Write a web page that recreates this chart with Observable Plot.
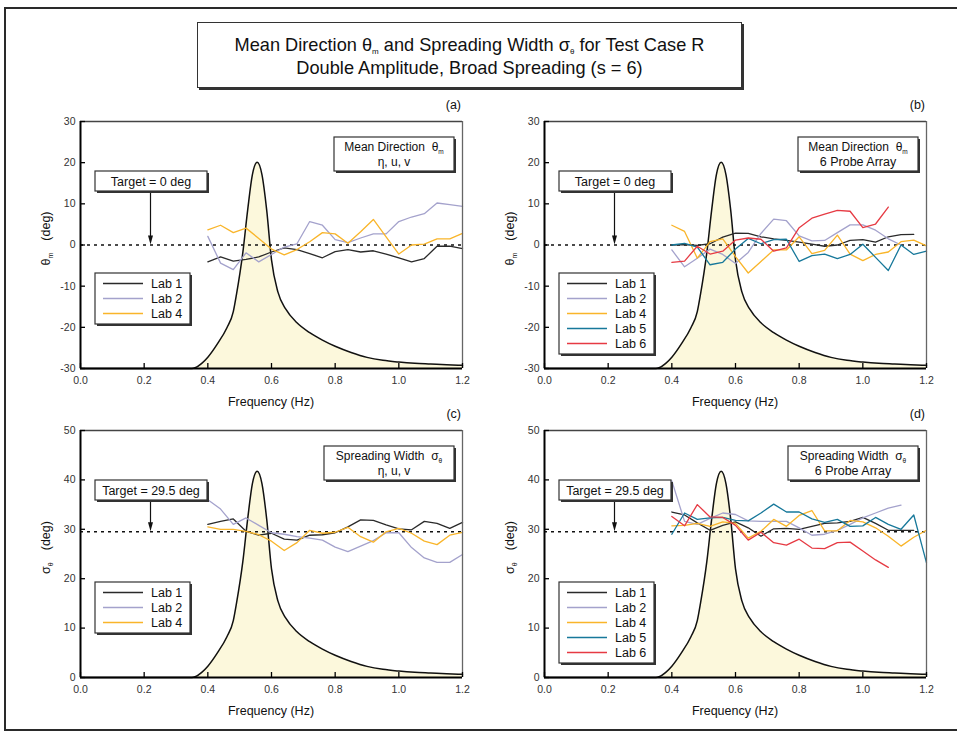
<!DOCTYPE html>
<html><head><meta charset="utf-8">
<script src="https://cdn.jsdelivr.net/npm/d3@7"></script>
<script src="https://cdn.jsdelivr.net/npm/@observablehq/plot@0.6"></script>
<style>
body{margin:0;background:#fff;}
#root{position:relative;width:957px;height:745px;overflow:hidden;font-family:"Liberation Sans",Arial,sans-serif;background:#fff;}
.outer{position:absolute;left:4px;top:7px;width:990px;height:724px;border:2px solid #2a2a2a;box-sizing:border-box;}
.titlebox{position:absolute;left:197px;top:22px;width:545px;height:66px;border:1px solid #333;box-shadow:2px 2px 0 #333;background:#fff;box-sizing:border-box;text-align:center;font-size:18.2px;line-height:23px;padding-top:11px;color:#111;}
.titlebox sub{font-size:8px;vertical-align:-3px;line-height:0;}
.panel{position:absolute;}
.panel svg{overflow:visible;}
</style></head>
<body><div id="root">
<div class="outer"></div>
<div class="titlebox">Mean Direction θ<sub>m</sub> and Spreading Width σ<sub>θ</sub> for Test Case R<br>Double Amplitude, Broad Spreading (s = 6)</div>
</div>
<script>
// ---------- data ----------
const freqs = [0.40,0.44,0.48,0.52,0.56,0.60,0.64,0.68,0.72,0.76,0.80,0.84,0.88,0.92,0.96,1.00,1.04,1.08,1.12,1.16,1.20];

// normalized spectral density curve (fraction of axis height)
const specFreq  = [0.00,0.35,0.36,0.38,0.40,0.43,0.46,0.48,0.49,0.51,0.525,0.54,0.555,0.57,0.585,0.60,0.62,0.645,0.68,0.72,0.76,0.80,0.85,0.90,0.95,1.00,1.05,1.10,1.15,1.20];
const specLevel = [0.000,0.000,0.003,0.020,0.046,0.100,0.165,0.230,0.300,0.470,0.640,0.785,0.835,0.785,0.640,0.440,0.310,0.240,0.185,0.145,0.115,0.090,0.065,0.045,0.033,0.026,0.021,0.018,0.015,0.013];

const xTicks = [0.0,0.2,0.4,0.6,0.8,1.0,1.2];
const thetaTicks = [-30,-20,-10,0,10,20,30];
const sigmaTicks = [0,10,20,30,40,50];
const thetaTarget = 0;
const sigmaTarget = 29.5;

const labNames  = ["Lab 1","Lab 2","Lab 4","Lab 5","Lab 6"];
const labColors = ["#2a2a2a","#a4a2cc","#f9b52a","#17789a","#e63a43"];

// (a) mean direction, eta-u-v
const aLab1 = [-4.1,-2.9,-3.9,-3.5,-2.9,-1.7,-0.7,-1.1,-2.1,-3.1,-1.6,-1.1,-1.7,-1.4,-2.2,-3.1,-4.1,-3.3,-0.3,-0.3,-0.9];
const aLab2 = [2.1,-4.4,-6.0,-1.9,-4.1,-2.3,-0.5,0.3,5.7,4.8,1.3,0.6,1.7,2.7,2.7,5.7,6.8,7.6,10.2,9.8,9.4];
const aLab4 = [3.7,4.8,3.0,4.1,1.6,-1.0,-2.4,-1.1,0.8,3.0,2.7,0.4,3.2,6.2,2.0,-2.2,0.0,0.2,1.5,1.5,2.8];
// (b) mean direction, 6 probe array
const bLab1 = [0.0,0.1,-0.1,0.3,1.9,2.9,2.8,2.0,1.5,1.1,0.7,0.2,-0.3,0.0,1.1,1.3,0.7,2.0,2.5,2.6];
const bLab2 = [-1.2,-5.3,-3.2,-1.0,-2.3,-4.5,-1.8,2.8,6.3,5.9,2.2,1.0,1.1,3.0,4.9,4.9,3.6,1.5,0.0];
const bLab4 = [4.8,3.3,-3.2,0.8,1.5,-2.8,-6.8,-4.0,-1.2,-1.2,2.0,-2.1,-1.3,2.4,-2.2,-3.8,-2.3,-1.7,0.8,1.2,-0.2];
const bLab5 = [0.0,0.4,-0.5,-4.8,-4.2,-1.0,1.6,0.3,1.3,1.4,-4.0,-2.6,-2.2,-3.3,-2.3,0.2,-3.0,-6.2,0.0,-2.3,-1.5];
const bLab6 = [-4.2,-3.9,-0.3,-2.2,-1.5,1.2,1.7,1.4,-1.5,-0.7,4.2,6.5,7.5,8.4,8.2,4.2,5.1,9.2];
// (c) spreading width, eta-u-v
const cLab1 = [31.0,31.6,32.1,29.6,28.8,29.2,28.0,27.8,28.8,28.9,29.3,30.5,31.9,31.8,30.9,30.1,29.9,31.6,31.2,30.2,31.4];
const cLab2 = [36.0,34.1,31.0,32.3,30.8,29.3,29.0,28.5,28.2,27.8,26.4,25.5,26.6,27.7,29.3,29.3,26.3,24.2,23.3,23.3,24.9];
const cLab4 = [30.5,30.0,30.0,29.6,28.9,27.6,25.7,27.3,29.8,29.2,29.4,30.4,28.5,27.4,29.5,30.2,29.2,27.6,26.9,28.8,29.4];
// (d) spreading width, 6 probe array
const dLab1 = [33.5,32.9,31.3,29.8,30.8,31.5,30.3,28.6,30.1,30.2,30.0,30.6,31.2,31.3,31.6,32.4,31.2,29.8,29.8,29.8];
const dLab2 = [39.8,31.6,31.0,32.2,33.3,33.0,31.7,31.6,31.6,31.6,30.3,28.8,29.0,29.8,31.0,32.3,33.3,34.3,34.9];
const dLab4 = [30.7,30.8,31.2,30.6,31.5,31.2,28.2,29.6,32.0,30.6,32.8,33.8,29.7,29.7,31.8,31.5,30.3,28.6,26.6,28.4,29.8];
const dLab5 = [29.0,33.3,32.0,32.3,32.4,31.8,31.7,33.3,35.1,33.5,33.5,32.1,31.4,32.0,30.6,30.7,32.4,31.0,30.0,32.9,23.2];
const dLab6 = [32.6,30.7,35.0,32.5,32.4,30.8,27.8,29.4,27.3,26.8,28.0,26.2,26.1,27.3,27.4,25.6,23.8,22.3];

// ---------- drawing ----------
const FONT = "Liberation Sans, Arial, sans-serif";
const root = document.getElementById("root");

function panel(o) {
  const W = 478, H = 310, mL = 80, mR = 16, mT = 21, mB = 42;
  const pw = W - mL - mR, ph = H - mT - mB;
  const [y0, y1] = o.yDomain;
  const spec = specFreq.map((f, i) => ({f, v: y0 + specLevel[i] * (y1 - y0)}));
  const marks = [
    Plot.areaY(spec, {x: "f", y1: y0, y2: "v", fill: "#fcf8dc", curve: "monotone-x"}),
    Plot.line(spec, {x: "f", y: "v", stroke: "#111", strokeWidth: 1.5, curve: "monotone-x"}),
    Plot.ruleY([o.target], {stroke: "#111", strokeWidth: 1.6, strokeDasharray: "3,4"})
  ];
  o.series.forEach((vals, k) => {
    const idx = o.labs[k];
    marks.push(Plot.line(vals.map((v, i) => ({f: freqs[i], v})),
      {x: "f", y: "v", stroke: labColors[idx], strokeWidth: 1.3}));
  });
  marks.push(
    Plot.ruleY([y1], {stroke: "#444", strokeWidth: 1.3}),
    Plot.ruleX([1.2], {stroke: "#666", strokeWidth: 1.3}),
    Plot.ruleX([0], {stroke: "#000", strokeWidth: 2}),
    Plot.ruleY([y0], {stroke: "#000", strokeWidth: 2}),
    Plot.tickX(xTicks, {x: d => d, insetTop: ph - 5, stroke: "#000", strokeWidth: 1.3}),
    Plot.tickY(o.yTicks, {y: d => d, insetRight: pw - 5, stroke: "#000", strokeWidth: 1.3}),
    Plot.axisX({ticks: xTicks, tickSize: 0, tickPadding: 8, tickFormat: d => d.toFixed(1), label: null, fill: "#333"}),
    Plot.axisY({ticks: o.yTicks, tickSize: 0, tickPadding: 5, tickFormat: d => String(d), label: null, fill: "#333"})
  );
  const svg = Plot.plot({
    width: W, height: H, marginLeft: mL, marginRight: mR, marginTop: mT, marginBottom: mB,
    x: {domain: [0, 1.2], axis: null},
    y: {domain: o.yDomain, axis: null},
    style: {fontFamily: FONT, fontSize: "10.5px", background: "transparent", overflow: "visible"},
    marks
  });
  const ys = svg.scale("y");
  const g = d3.select(svg).append("g").attr("font-family", FONT).attr("fill", "#111").attr("text-anchor", "start");
  const txt = () => g.append("text").attr("fill", "#111").attr("stroke", "none");

  // panel letter
  txt().attr("x", 461).attr("y", 8.5).attr("text-anchor", "end").attr("font-size", 12.5).text(o.letter);
  // x label
  txt().attr("x", mL + pw / 2).attr("y", 306).attr("text-anchor", "middle").attr("font-size", 12.5).text("Frequency (Hz)");
  // y label
  const yl = txt().attr("transform", `translate(50,${mT + ph / 2 - 6}) rotate(-90)`)
    .attr("text-anchor", "middle").attr("font-size", 12.5);
  yl.append("tspan").text(o.ySym);
  yl.append("tspan").attr("font-size", 7).attr("dy", 3).text(o.ySub);
  yl.append("tspan").attr("dy", -3).attr("dx", 12).text("(deg)");

  function box(x0, y0b, x1, y1b) {
    g.append("rect").attr("x", x0 + 2).attr("y", y0b + 2).attr("width", x1 - x0).attr("height", y1b - y0b).attr("fill", "#333");
    g.append("rect").attr("x", x0).attr("y", y0b).attr("width", x1 - x0).attr("height", y1b - y0b)
      .attr("fill", "#fff").attr("stroke", "#333").attr("stroke-width", 1.2);
  }
  // target box + arrow
  const tb = [95, 71, 207, 91];
  const ax = (tb[0] + tb[2]) / 2 - 0.5, tipY = ys.apply(o.target);
  g.append("line").attr("x1", ax).attr("x2", ax).attr("y1", tb[3]).attr("y2", tipY - 7).attr("stroke", "#111").attr("stroke-width", 1.2);
  g.append("path").attr("d", `M${ax - 2.5},${tipY - 9}L${ax + 2.5},${tipY - 9}L${ax},${tipY}Z`).attr("fill", "#111");
  box(...tb);
  txt().attr("x", (tb[0] + tb[2]) / 2).attr("y", 85.5).attr("text-anchor", "middle").attr("font-size", 12.5).text(o.targetText);

  // description box
  const db = o.descBox;
  box(db[0], 37, db[1], 71);
  const t1 = txt().attr("x", (db[0] + db[1]) / 2).attr("y", 51).attr("text-anchor", "middle").attr("font-size", 12);
  t1.append("tspan").text(o.desc1 + "  " + o.ySym);
  t1.append("tspan").attr("font-size", 6.5).attr("dy", 3).text(o.ySub);
  txt().attr("x", (db[0] + db[1]) / 2 + o.desc2dx).attr("y", 66).attr("text-anchor", "middle")
    .attr("font-size", o.desc2size).text(o.desc2);

  // legend
  const n = o.labs.length;
  box(95, 173, 190, 173 + 15 * n + 6);
  o.labs.forEach((idx, k) => {
    const yy = 183.5 + 15 * k;
    g.append("line").attr("x1", 103).attr("x2", 143).attr("y1", yy).attr("y2", yy).attr("stroke", labColors[idx]).attr("stroke-width", 1.5);
    txt().attr("x", 151).attr("y", yy + 4.5).attr("text-anchor", "start").attr("font-size", 12.5).text(labNames[idx]);
  });

  const div = document.createElement("div");
  div.className = "panel";
  div.style.left = o.left + "px";
  div.style.top = o.top + "px";
  div.appendChild(svg);
  root.appendChild(div);
}

panel({left: 0, top: 100, yDomain: [-30, 30], yTicks: thetaTicks, target: thetaTarget, targetText: "Target = 0 deg",
  labs: [0, 1, 2], series: [aLab1, aLab2, aLab4], letter: "(a)", ySym: "θ", ySub: "m",
  descBox: [334, 454], desc1: "Mean Direction", desc2: "η, u, v", desc2size: 12, desc2dx: 0});
panel({left: 464, top: 100, yDomain: [-30, 30], yTicks: thetaTicks, target: thetaTarget, targetText: "Target = 0 deg",
  labs: [0, 1, 2, 3, 4], series: [bLab1, bLab2, bLab4, bLab5, bLab6], letter: "(b)", ySym: "θ", ySub: "m",
  descBox: [334, 454], desc1: "Mean Direction", desc2: "6 Probe Array", desc2size: 12.5, desc2dx: 0});
panel({left: 0, top: 409, yDomain: [0, 50], yTicks: sigmaTicks, target: sigmaTarget, targetText: "Target = 29.5 deg",
  labs: [0, 1, 2], series: [cLab1, cLab2, cLab4], letter: "(c)", ySym: "σ", ySub: "θ",
  descBox: [324, 454], desc1: "Spreading Width", desc2: "η, u, v", desc2size: 12, desc2dx: 5});
panel({left: 464, top: 409, yDomain: [0, 50], yTicks: sigmaTicks, target: sigmaTarget, targetText: "Target = 29.5 deg",
  labs: [0, 1, 2, 3, 4], series: [dLab1, dLab2, dLab4, dLab5, dLab6], letter: "(d)", ySym: "σ", ySub: "θ",
  descBox: [324, 454], desc1: "Spreading Width", desc2: "6 Probe Array", desc2size: 12.5, desc2dx: 0});
</script>
</body></html>
